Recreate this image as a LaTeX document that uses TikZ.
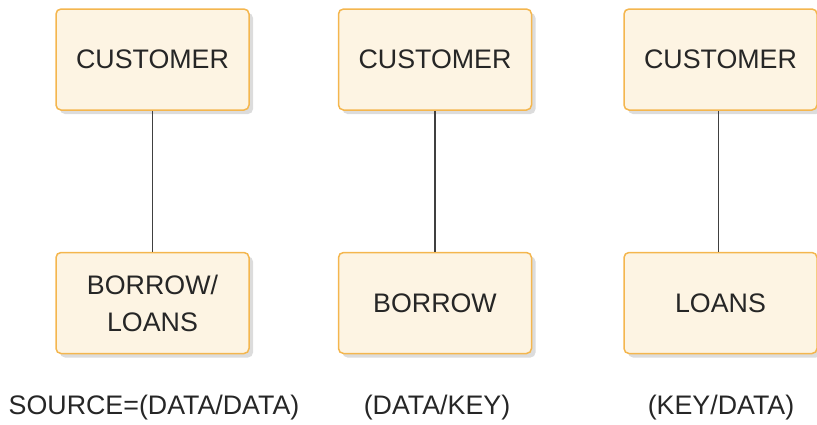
\documentclass[tikz,border=0pt]{standalone}
\usepackage{fontspec}
\usetikzlibrary{shadows}
\setmainfont{Liberation Sans}
\definecolor{boxfill}{HTML}{FDF4E3}
\definecolor{boxline}{HTML}{F4B64E}
\definecolor{shadowc}{HTML}{DCDCDC}
\definecolor{txt}{HTML}{262626}
\begin{document}
\begin{tikzpicture}[x=1pt,y=-1pt,
  ent/.style={draw=boxline, fill=boxfill, line width=1.5pt, rounded corners=5pt,
    minimum width=193pt, minimum height=101pt, inner sep=0pt, align=center,
    text=txt, font=\fontsize{26.8}{37}\selectfont,
    general shadow={fill=shadowc, draw=none, shadow xshift=4pt, shadow yshift=-4pt}},
  conn/.style={draw=black!75, line width=1.1pt},
  lbl/.style={text=txt, font=\fontsize{26.8}{30}\selectfont, inner sep=0pt}]
\useasboundingbox (0,0) rectangle (817,424);
\node[ent] (c1) at (152.5,59.5) {CUSTOMER};
\node[ent] (c2) at (435,59.5) {CUSTOMER};
\node[ent] (c3) at (720.5,59.5) {CUSTOMER};
\node[ent] (b1) at (152.5,303) {BORROW/\\LOANS};
\node[ent] (b2) at (435,303) {BORROW};
\node[ent] (b3) at (720.5,303) {LOANS};
\draw[conn] (c1) -- (b1);
\draw[conn] (c2) -- (b2);
\draw[conn] ([xshift=-2pt]c3.south) -- ([xshift=-2pt]b3.north);
\node[lbl] (l1) at (154,408) {SOURCE=(DATA/DATA)};
\node[lbl] (l2) at (437,408) {(DATA/KEY)};
\node[lbl] (l3) at (721,408) {(KEY/DATA)};
\end{tikzpicture}
\end{document}
